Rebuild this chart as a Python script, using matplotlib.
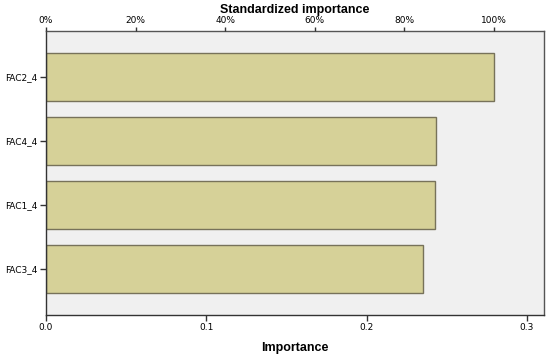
import matplotlib.pyplot as plt
import numpy as np

# variable importance
factors = ['FAC2_4', 'FAC4_4', 'FAC1_4', 'FAC3_4']
importance = [0.2795, 0.2433, 0.2427, 0.2350]
pct_ticks = [0, 20, 40, 60, 80, 100]

fig = plt.figure(figsize=(5.5, 3.55), dpi=100)
ax = fig.add_axes([0.0836, 0.1127, 0.9054, 0.80])
ax.set_facecolor('#f0f0f0')

y = np.arange(len(factors))
ax.barh(y, importance, height=0.75, color='#d6d198', edgecolor='#77725a', linewidth=1.0)
ax.set_ylim(3.72, -0.72)
ax.set_xlim(0, 0.3107)
ax.set_yticks(y)
ax.set_yticklabels(factors, fontsize=6.5)
ax.set_xticks([0.0, 0.1, 0.2, 0.3])
ax.set_xticklabels(['0.0', '0.1', '0.2', '0.3'], fontsize=6.5)
ax.set_xlabel('Importance', fontsize=9, fontweight='bold', labelpad=7,
              family='Liberation Sans')
ax.tick_params(axis='both', direction='out', length=4, width=1, color='#333333', pad=2)

for side in ['left', 'bottom']:
    ax.spines[side].set_color('#333333')
    ax.spines[side].set_linewidth(1.0)
for side in ['top', 'right']:
    ax.spines[side].set_color('#555555')
    ax.spines[side].set_linewidth(1.0)

# standardized axis on top
top = ax.twiny()
top.set_xlim(ax.get_xlim())
mx = max(importance)
top.set_xticks([p / 100 * mx for p in pct_ticks])
top.set_xticklabels([f'{p}%' for p in pct_ticks], fontsize=6.5)
top.set_xlabel('Standardized importance', fontsize=9, fontweight='bold', labelpad=2,
               family='Liberation Sans')
top.tick_params(axis='x', direction='out', length=3, width=1, color='#333333', pad=1.5)
for s in top.spines.values():
    s.set_visible(False)

fig.savefig('out.png', dpi=100)
